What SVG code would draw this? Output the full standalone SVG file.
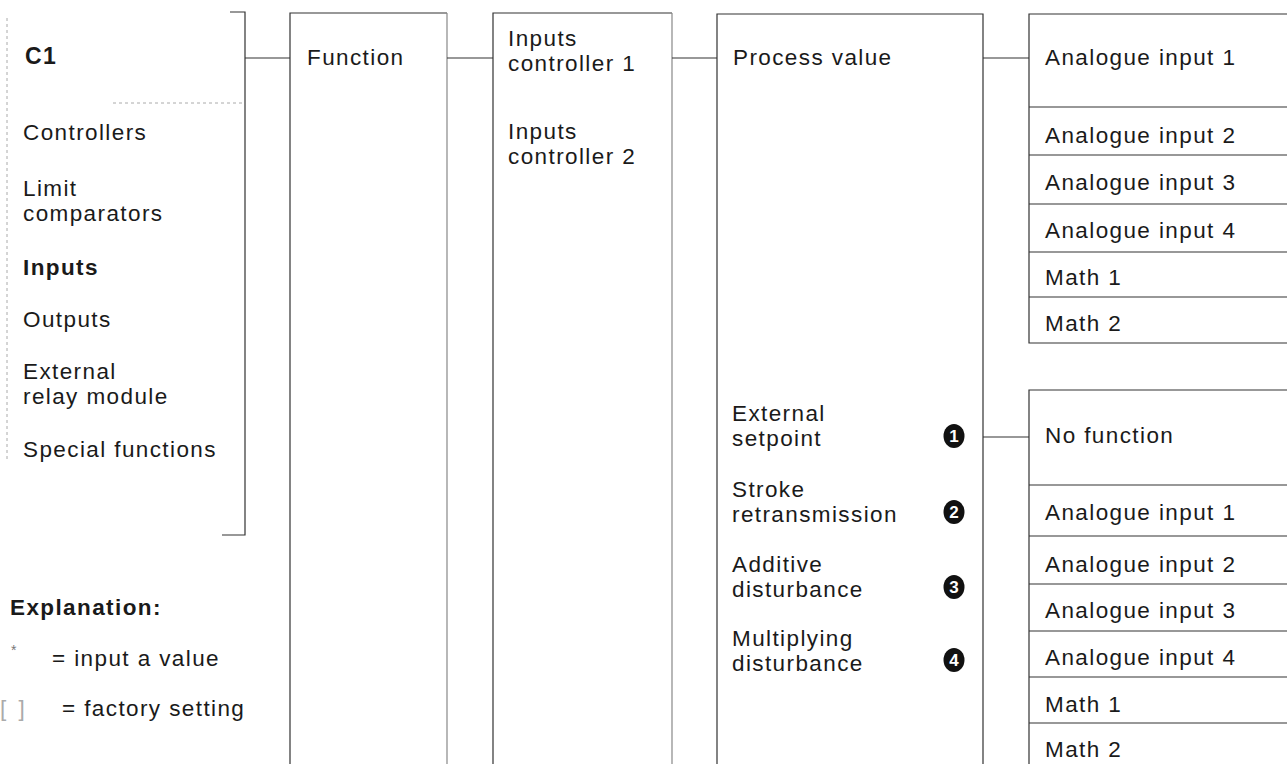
<svg xmlns="http://www.w3.org/2000/svg" width="1287" height="764" viewBox="0 0 1287 764">
<style>
text{font-family:"Liberation Sans",Arial,Helvetica,sans-serif;font-size:22.5px;letter-spacing:1.4px;fill:#1a1a1a}
.b{font-weight:bold}
.ln{stroke:#333;stroke-width:1.2;fill:none}
.lt{stroke:#888;stroke-width:1.2;fill:none}
.dt{stroke:#aaa;stroke-width:1;fill:none;stroke-dasharray:3 3}
.num{fill:#111}
.nt{font-weight:bold;font-size:17px;fill:#fff;letter-spacing:0;text-anchor:middle}
</style>
<rect width="1287" height="764" fill="#fff"/>

<g id="c1">
  <path class="dt" d="M7 18V460"/>
  <path class="ln" d="M230 12H245V535H222"/>
  <path class="dt" d="M113 103H245"/>
  <text x="25" y="64" class="b" style="font-size:23px">C1</text>
  <text x="23" y="140">Controllers</text>
  <text x="23" y="196">Limit</text>
  <text x="23" y="221">comparators</text>
  <text x="23" y="275" class="b">Inputs</text>
  <text x="23" y="327">Outputs</text>
  <text x="23" y="379">External</text>
  <text x="23" y="404">relay module</text>
  <text x="23" y="457">Special functions</text>
</g>

<g id="function">
  <path class="ln" d="M290 764V13H447"/>
  <path class="lt" d="M447 13V764"/>
  <text x="307" y="65">Function</text>
</g>

<g id="inputs-controller">
  <path class="ln" d="M493 764V13H672"/>
  <path class="lt" d="M672 13V764"/>
  <text x="508" y="46">Inputs</text>
  <text x="508" y="71">controller 1</text>
  <text x="508" y="139">Inputs</text>
  <text x="508" y="164">controller 2</text>
</g>

<g id="process">
  <path class="ln" d="M717 764V14H983V764"/>
  <text x="733" y="65">Process value</text>
  <text x="732" y="421">External</text>
  <text x="732" y="446">setpoint</text>
  <text x="732" y="497">Stroke</text>
  <text x="732" y="522">retransmission</text>
  <text x="732" y="572">Additive</text>
  <text x="732" y="597">disturbance</text>
  <text x="732" y="646">Multiplying</text>
  <text x="732" y="671">disturbance</text>
  <ellipse class="num" cx="954" cy="436" rx="10.5" ry="12"/>
  <text class="nt" x="954" y="442">1</text>
  <ellipse class="num" cx="954" cy="512" rx="10.5" ry="12"/>
  <text class="nt" x="954" y="518">2</text>
  <ellipse class="num" cx="954" cy="587" rx="10.5" ry="12"/>
  <text class="nt" x="954" y="593">3</text>
  <ellipse class="num" cx="954" cy="660" rx="10.5" ry="12"/>
  <text class="nt" x="954" y="666">4</text>
</g>

<g id="pv-sources">
  <path class="ln" d="M1287 14H1029V343H1287"/>
  <path class="ln" d="M1029 107H1287M1029 155H1287M1029 204H1287M1029 252H1287M1029 297H1287"/>
  <text x="1045" y="65">Analogue input 1</text>
  <text x="1045" y="143">Analogue input 2</text>
  <text x="1045" y="190">Analogue input 3</text>
  <text x="1045" y="238">Analogue input 4</text>
  <text x="1045" y="285">Math 1</text>
  <text x="1045" y="331">Math 2</text>
</g>

<g id="setpoint-sources">
  <path class="ln" d="M1287 390H1029V764"/>
  <path class="ln" d="M1029 485H1287M1029 536H1287M1029 584H1287M1029 631H1287M1029 677H1287M1029 723H1287"/>
  <text x="1045" y="443">No function</text>
  <text x="1045" y="520">Analogue input 1</text>
  <text x="1045" y="572">Analogue input 2</text>
  <text x="1045" y="618">Analogue input 3</text>
  <text x="1045" y="665">Analogue input 4</text>
  <text x="1045" y="712">Math 1</text>
  <text x="1045" y="757">Math 2</text>
</g>

<g id="connectors">
  <path class="ln" d="M245 58H290M447 58H493M672 58H717M983 58H1029M983 437H1029"/>
</g>

<g id="explanation">
  <text x="10" y="615" class="b">Explanation:</text>
  <text x="11" y="655" style="font-size:14px;fill:#777;letter-spacing:0">*</text>
  <text x="52" y="666">= input a value</text>
  <text x="0" y="716" style="fill:#aaa;letter-spacing:3px">[ ]</text>
  <text x="62" y="716">= factory setting</text>
</g>
</svg>
